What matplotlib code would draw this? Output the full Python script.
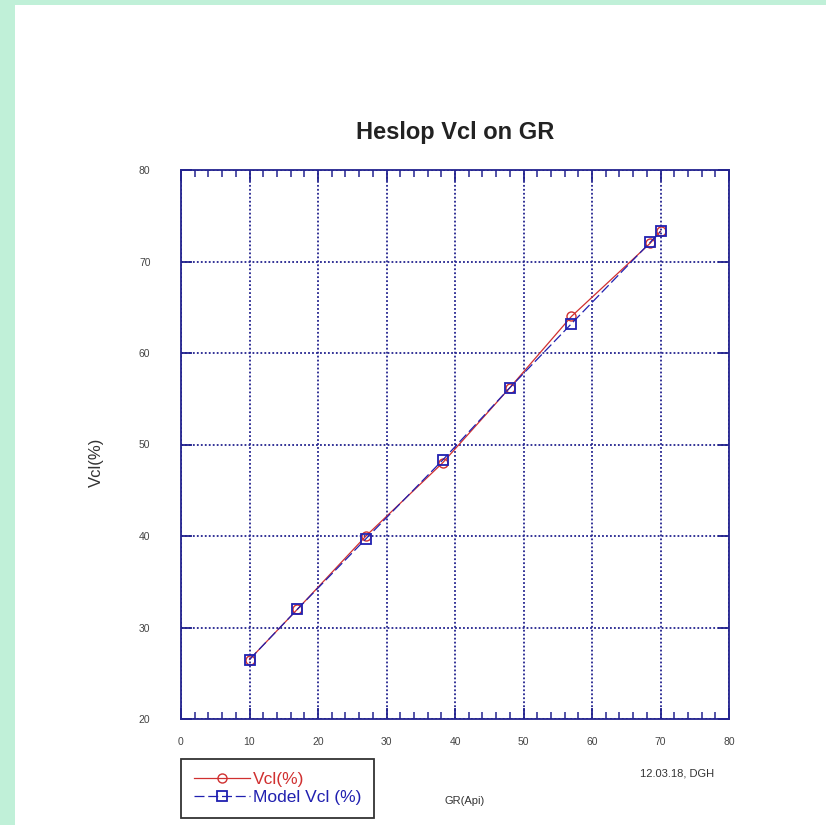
import numpy as np
import matplotlib.pyplot as plt
from matplotlib.patches import Rectangle
from matplotlib.ticker import MultipleLocator

plt.rcParams['font.family'] = ['Liberation Sans', 'DejaVu Sans']

gr = [10, 17, 27, 38.2, 48, 57, 68.5, 70]
vcl = [26.5, 32.0, 40.0, 48.0, 56.2, 64.0, 72.0, 73.3]
vcl_model = [26.5, 32.0, 39.7, 48.3, 56.2, 63.2, 72.1, 73.3]

navy = '#23238f'

fig = plt.figure(figsize=(8.26, 8.25), dpi=100)
fig.patch.set_facecolor('white')
# light green frame around the page
fig.add_artist(Rectangle((0, 0), 15 / 826, 1, transform=fig.transFigure,
                         facecolor='#c0f0d8', edgecolor='none'))
fig.add_artist(Rectangle((0, 1 - 5 / 825), 1, 5 / 825, transform=fig.transFigure,
                         facecolor='#c0f0d8', edgecolor='none'))

ax = fig.add_axes([181 / 826, 106 / 825, 548 / 826, 549 / 825])
ax.plot(gr, vcl, '-o', color='#d03030', lw=0.9, ms=6.5, mfc='none', mew=1.0,
        label='Vcl(%)')
ax.plot(gr, vcl_model, '--s', color='#2020b0', lw=0.9, ms=6.5, mfc='none', mew=1.3,
        dashes=(8, 3), label='Model Vcl (%)')

ax.set_xlim(0, 80)
ax.set_ylim(20, 80)
ax.xaxis.set_major_locator(MultipleLocator(10))
ax.xaxis.set_minor_locator(MultipleLocator(2))
ax.yaxis.set_major_locator(MultipleLocator(10))
ax.grid(True, which='major', color=navy, linestyle=(0, (1, 1.2)), lw=1.3)
for s in ax.spines.values():
    s.set_color(navy)
    s.set_linewidth(1.3)
ax.tick_params(which='both', direction='in', top=True, right=True, color=navy,
               labelsize=7.5, labelcolor='#444444')
ax.tick_params(which='major', length=8, width=1.3, pad=13)
ax.tick_params(which='minor', length=5, width=1.1)
ax.tick_params(axis='y', pad=22)

fig.text(455 / 826, 1 - 133 / 825, 'Heslop Vcl on GR', ha='center', va='center',
         fontsize=17, fontweight='bold', color='#222222')
fig.text(96 / 826, 1 - 462 / 825, 'Vcl(%)', rotation=90, ha='center', va='center',
         fontsize=12, color='#333333')
fig.text(465 / 826, 1 - 801 / 825, 'GR(Api)', ha='center', va='center',
         fontsize=8, color='#333333')
fig.text(677 / 826, 1 - 773 / 825, '12.03.18, DGH', ha='center', va='center',
         fontsize=8, color='#333333')

leg = fig.legend(loc='upper left', bbox_to_anchor=(181 / 826, 1 - 759 / 825),
                 frameon=True, fancybox=False, edgecolor='black', fontsize=12.5,
                 handlelength=3.2, borderpad=0.75, labelspacing=0.15,
                 handletextpad=0.2, borderaxespad=0)
leg.get_frame().set_linewidth(1.3)
for t, c in zip(leg.get_texts(), ['#d03030', '#2020b0']):
    t.set_color(c)

fig.savefig('out.png', dpi=100)
